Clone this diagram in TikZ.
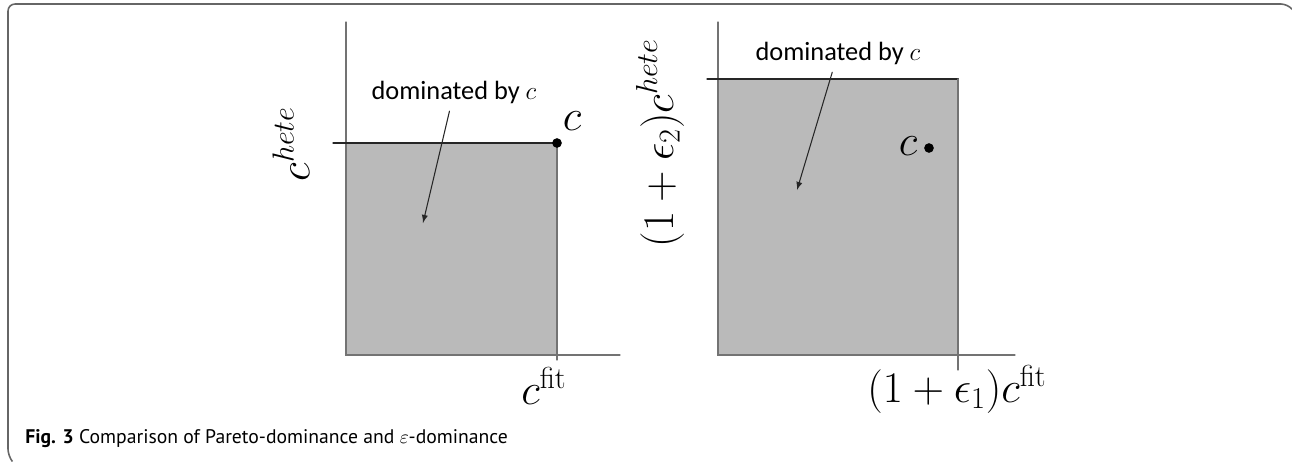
\documentclass[tikz,border=0pt]{standalone}
\usepackage[no-math]{fontspec}
\setmainfont{Carlito}
\newfontfamily\capfont{PT Sans}
\usepackage{amsmath}

\begin{document}
\begin{tikzpicture}[
    x=0.02cm, y=-0.02cm, % one unit = one pixel of the figure, y downwards
    >=latex,
    line cap=round,
    axis line/.style={draw=black!55, line width=0.7pt},
    level line/.style={draw=black!85, line width=0.7pt},
    dot/.style={circle, fill=black, inner sep=0pt, minimum size=5.5pt},
    math label/.style={font=\fontsize{24}{28}\selectfont, inner sep=0pt},
    note/.style={font=\fontsize{15}{18}\selectfont},
    pointer/.style={->, black!85, line width=0.6pt, shorten <=1pt}
]

% --- 1. SETTINGS & COLORS ---
\colorlet{dom_color}{black!27}
\colorlet{edge_color}{black!62}

\useasboundingbox (0,0) rectangle (1292,461);

% --- 2. FRAME ---
\draw[black!60, line width=0.9pt, rounded corners=4pt]
    (12,461) -- (8,456) -- (8,4) -- (1288,4) -- (1292,9);

% --- 3. PARETO-DOMINANCE (left) ---
\fill[dom_color, draw=edge_color, line width=0.7pt] (346,143) rectangle (557,355);
\draw[axis line] (346,22) -- (346,355) -- (620,355);
\draw[level line] (333,143) -- (557,143);
\draw[axis line] (557,143) -- (557,360);
\node[dot] (cL) at (557,143) {};
\node[math label] (cLlab) at (572,121) {$c$};
\node[math label] (fitL) at (544,386) {$c^{\mathrm{fit}}$};
\node[math label, rotate=90] (heteL) at (291,144) {$c^{hete}$};
\node[note] (domL) at (454,92) {dominated by $c$};
\coordinate (tipL) at (423,223);
\draw[pointer] (domL) -- (tipL);

% --- 4. EPSILON-DOMINANCE (right) ---
\fill[dom_color, draw=edge_color, line width=0.7pt] (718,79) rectangle (958,355);
\draw[axis line] (718,22) -- (718,355) -- (1015,355);
\draw[level line] (707,79) -- (958,79);
\draw[axis line] (958,79) -- (958,370);
\node[dot] (cR) at (929,148) {};
\node[math label] (cRlab) at (908,146) {$c$};
\node[math label, font=\fontsize{25.5}{29}\selectfont] (fitR) at (957,389) {$(1+\epsilon_1)c^{\mathrm{fit}}$};
\node[math label, rotate=90] (heteR) at (660,143) {$(1+\epsilon_2)c^{hete}$};
\node[note] (domR) at (838,53) {dominated by $c$};
\coordinate (tipR) at (797,190);
\draw[pointer] (domR) -- (tipR);

% --- 5. CAPTION ---
\node[anchor=base west, inner sep=0pt, font=\capfont\fontsize{11.2}{13}\selectfont] (cap) at (25,443)
    {\textbf{Fig. 3} Comparison of Pareto-dominance and $\varepsilon$-dominance};

\end{tikzpicture}
\end{document}
